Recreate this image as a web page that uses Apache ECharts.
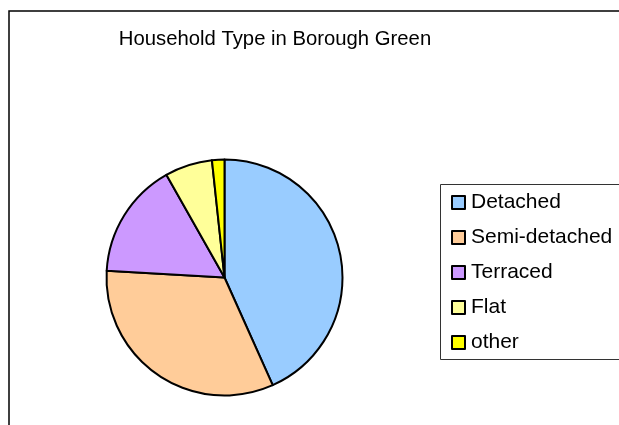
<!DOCTYPE html>
<html>
<head>
<meta charset="utf-8">
<title>Household Type in Borough Green</title>
<script src="https://cdn.jsdelivr.net/npm/echarts@6/dist/echarts.min.js"></script>
<style>
  html, body { margin: 0; padding: 0; background: #fff; }
  #chart { width: 619px; height: 425px; }
</style>
</head>
<body>
<div id="chart"></div>
<script>
// data (percent of households)
var categories = ['Detached', 'Semi-detached', 'Terraced', 'Flat', 'other'];
var shares = [43.3, 32.6, 15.9, 6.5, 1.7];
var colors = ['#99CCFF', '#FFCC99', '#CC99FF', '#FFFF99', '#FFFF00'];

var myChart = echarts.init(document.getElementById('chart'));

var pieData = [];
categories.forEach(function (name, i) {
  pieData.push({ name: name, value: shares[i], itemStyle: { color: colors[i] } });
});

var option = {
  animation: false,
  textStyle: { fontFamily: 'Liberation Sans, Arial, sans-serif' },
  title: {
    text: 'Household Type in Borough Green',
    left: 270,
    top: 24,
    textAlign: 'center',
    textStyle: { fontSize: 20.3, fontWeight: 'normal', color: '#000' }
  },
  // chart frame + legend box
  graphic: [
    {
      type: 'rect',
      shape: { x: 9, y: 11, width: 800, height: 600 },
      style: { fill: 'none', stroke: '#000', lineWidth: 1.5 }
    },
    {
      type: 'rect',
      shape: { x: 440.5, y: 184.5, width: 300, height: 175 },
      style: { fill: 'none', stroke: '#333', lineWidth: 1 }
    }
  ],
  legend: {
    orient: 'vertical',
    left: 451,
    top: 192,
    padding: 0,
    itemWidth: 13,
    itemHeight: 13,
    itemGap: 14,
    icon: 'rect',
    data: categories,
    itemStyle: { borderColor: '#000', borderWidth: 2 },
    textStyle: { fontSize: 21, color: '#000', lineHeight: 21, padding: [0, 0, 0, 1] }
  },
  series: [
    {
      type: 'pie',
      center: [224.5, 277.5],
      radius: 118,
      startAngle: 90,
      clockwise: true,
      label: { show: false },
      labelLine: { show: false },
      emphasis: { disabled: true },
      itemStyle: { borderColor: '#000', borderWidth: 2 },
      data: pieData
    }
  ]
};

myChart.setOption(option);
</script>
</body>
</html>
